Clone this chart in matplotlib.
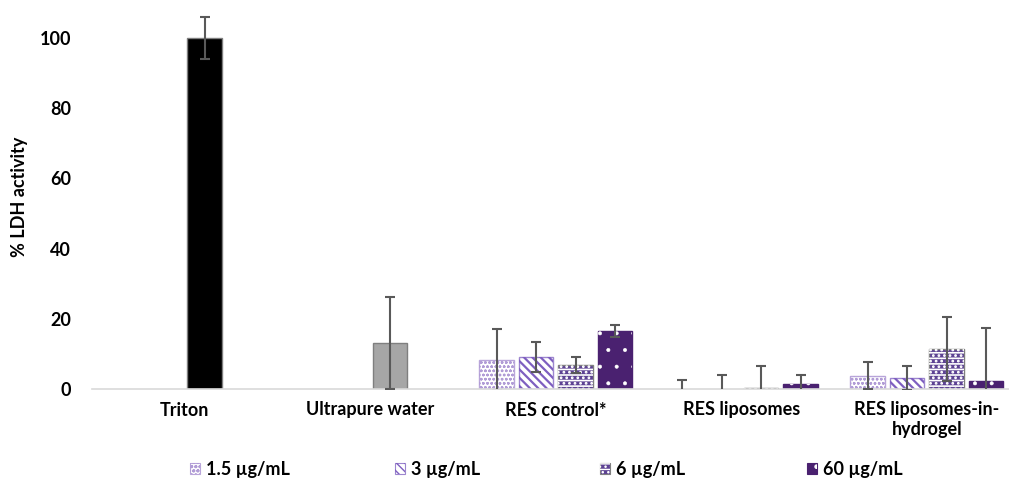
import numpy as np
import matplotlib
matplotlib.use("Agg")
import matplotlib.pyplot as plt
from matplotlib.patches import Patch

plt.rcParams["font.family"] = ["Lato", "DejaVu Sans"]
plt.rcParams["font.weight"] = "bold"

# ---- data ----
categories = ["Triton", "Ultrapure water", "RES control*", "RES liposomes",
              "RES liposomes-in-\nhydrogel"]
series_labels = ["1.5 µg/mL", "3 µg/mL", "6 µg/mL", "60 µg/mL"]

val_1_5 = [0, 0, 8.3, 0, 3.8]
err_1_5 = [0, 0, 8.8, 2.5, 3.8]
val_3 = [0, 0, 9.1, 0, 3.2]
err_3 = [0, 0, 4.3, 4.0, 3.4]
# Triton / ultrapure water controls sit in the 6 µg/mL slot (Excel layout)
val_6 = [100, 13.1, 6.8, 0.3, 11.4]
err_6 = [6.0, 13.1, 2.3, 6.2, 9.0]
val_60 = [0, 0, 16.5, 1.4, 2.3]
err_60 = [0, 0, 1.6, 2.6, 15.1]

values = [val_1_5, val_3, val_6, val_60]
errors = [err_1_5, err_3, err_6, err_60]

# ---- styling ----
faces = ["white", "white", "#5d4293", "#4a2170"]
edges = ["#b9a6da", "#9d86cf", "#7f7f7f", "#4a2170"]
hatch_cols = ["#b19cd6", "#7e5fc0", "white", "white"]
hatches = ["oooo", "\\\\\\\\", "---...", "."]
hatch_lw = [0.7, 1.6, 1.2, 0.4]
# per-bar overrides for the control categories (category index -> face, edge)
controls = {0: ("black", "#7f7f7f"), 1: ("#a6a6a6", "#7f7f7f")}

W, H, DPI = 1009, 487, 100
fig = plt.figure(figsize=(W / DPI, H / DPI), dpi=DPI)
cat_px = 185.5
ax_left, ax_bottom = 92, 389
ymax = 110
ax = fig.add_axes([ax_left / W, 1 - ax_bottom / H,
                   (W - ax_left) / W, (ymax * 3.51) / H])

x = np.arange(len(categories))
slot = 39.5 / cat_px
bar_w = 34.5 / cat_px
offsets = (np.arange(4) - 1.5) * slot


def hatch_patch(i, **kw):
    with plt.rc_context({"hatch.linewidth": hatch_lw[i]}):
        return Patch(fill=False, edgecolor=hatch_cols[i], lw=0,
                     hatch=hatches[i], **kw)


for i in range(4):
    v = np.array(values[i], dtype=float)
    e = np.array(errors[i], dtype=float)
    xs = x + offsets[i]
    for j in range(len(categories)):
        if v[j] <= 0:
            continue
        if i == 2 and j in controls:
            fc, ec = controls[j]
            ax.bar(xs[j], v[j], bar_w, color=fc, edgecolor=ec, lw=1, zorder=2)
            continue
        ax.bar(xs[j], v[j], bar_w, color=faces[i], edgecolor=edges[i],
               lw=1, zorder=2)
        with plt.rc_context({"hatch.linewidth": hatch_lw[i]}):
            ax.bar(xs[j], v[j], bar_w, fill=False, edgecolor=hatch_cols[i],
                   lw=0, hatch=hatches[i], zorder=2)
    m = e > 0
    ax.errorbar(xs[m], v[m], yerr=e[m], fmt="none", ecolor="#595959",
                elinewidth=1.5, capsize=3.8, capthick=1.5, zorder=3)

ax.set_xlim(-0.5, -0.5 + (W - ax_left) / cat_px)
ax.set_ylim(0, ymax)
ax.set_yticks([0, 20, 40, 60, 80, 100])
ax.set_xticks(x)
ax.set_xticklabels(categories, fontsize=13, fontweight="bold",
                   multialignment="center")
ax.tick_params(axis="both", length=0, labelsize=13)
ax.tick_params(axis="y", pad=15)
ax.tick_params(axis="x", pad=9)
for s in ["top", "right", "left"]:
    ax.spines[s].set_visible(False)
ax.spines["bottom"].set_color("#d9d9d9")
ax.spines["bottom"].set_linewidth(1.2)

fig.text(20 / W, 1 - 197 / H, "% LDH activity", rotation=90, fontsize=13,
         fontweight="bold", ha="center", va="center")

# ---- legend, one entry per position ----
leg_x = [195, 400, 605, 812]
for i in range(4):
    h = (Patch(facecolor=faces[i], edgecolor=edges[i], lw=0.8),
         hatch_patch(i))
    fig.legend(handles=[h], labels=[series_labels[i]], loc="center left",
               bbox_to_anchor=((leg_x[i] - 5) / W, 1 - 469 / H),
               frameon=False, fontsize=13, handlelength=0.55,
               handleheight=0.55, handletextpad=0.35, borderpad=0,
               borderaxespad=0)

fig.savefig("out.png", dpi=DPI)
